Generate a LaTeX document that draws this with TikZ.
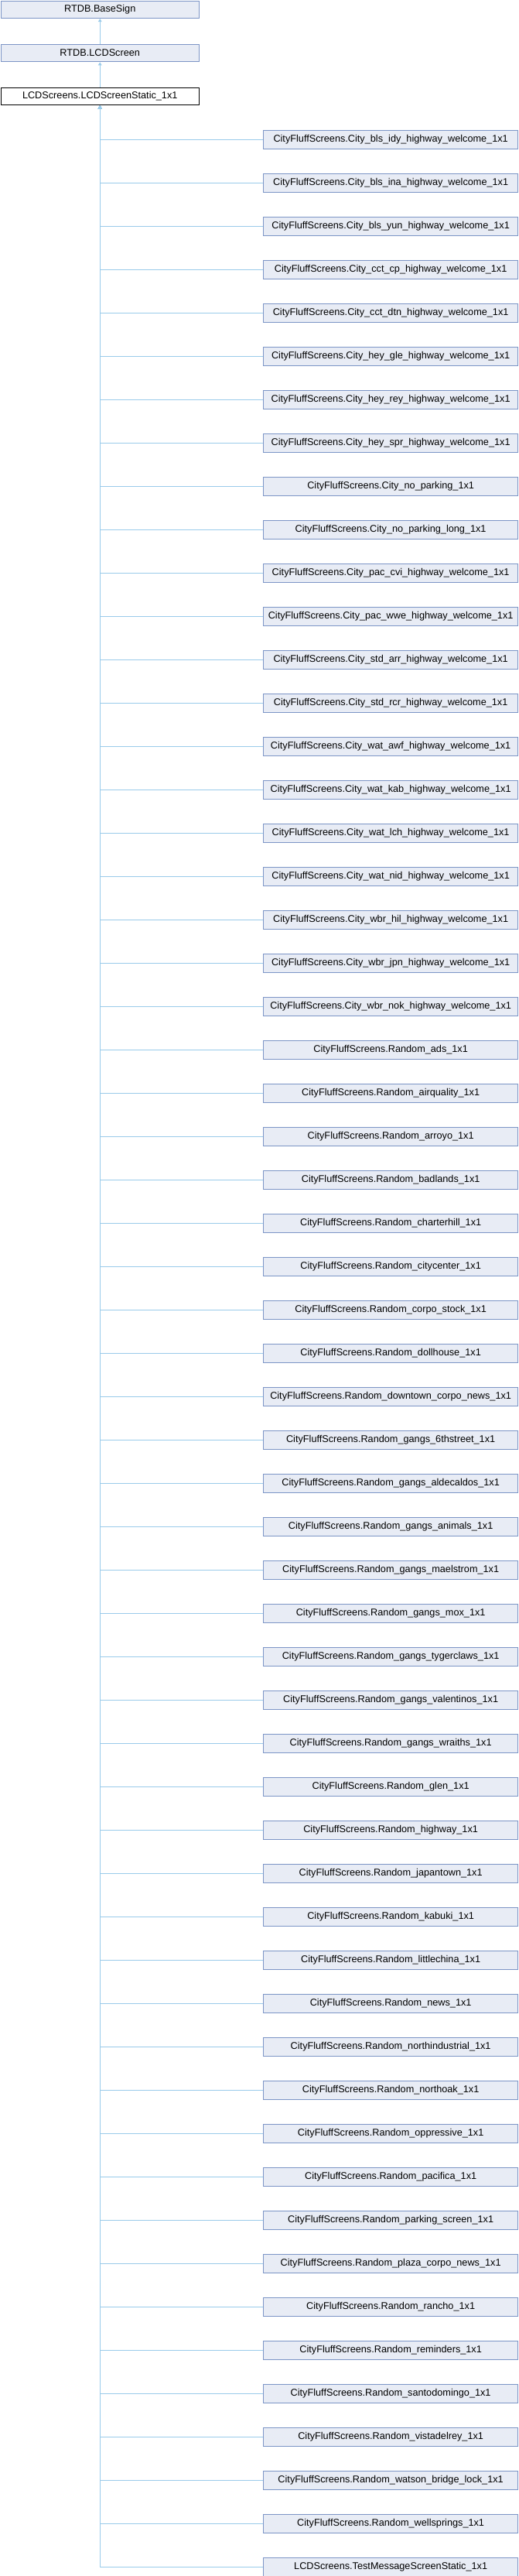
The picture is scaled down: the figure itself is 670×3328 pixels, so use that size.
\documentclass[tikz,border=0pt]{standalone}
\usepackage{fontspec}
\setmainfont{Liberation Sans}
\usetikzlibrary{arrows.meta}
\definecolor{boxfill}{HTML}{E8ECF5}
\definecolor{boxline}{HTML}{7C95C6}
\definecolor{edgecol}{HTML}{9ACBEA}
\begin{document}
\begin{tikzpicture}[x=1pt,y=-1pt,
  cls/.style={draw=boxline, fill=boxfill, line width=1pt, inner sep=0pt, anchor=north west,
    font=\fontsize{12.7}{14}\selectfont},
  topcls/.style={cls, minimum width=256.5pt, minimum height=22.6pt},
  subcls/.style={cls, minimum width=329.3pt, minimum height=23.3pt},
  focus/.style={topcls, draw=black, fill=white},
  inherit/.style={draw=edgecol, line width=1pt, -{Triangle[length=4pt,width=4.5pt]}}]
\useasboundingbox (0,0) rectangle (670,3328);
\fill[white] (0,0) rectangle (670,3328);
\node[topcls] (base) at (0.5,0.5) {RTDB.BaseSign};
\node[topcls] (lcd) at (0.5,56.7) {RTDB.LCDScreen};
\node[focus] (static) at (0.5,112.7) {LCDScreens.LCDScreenStatic\_1x1};
\draw[inherit] (lcd.north) -- (base.south);
\draw[inherit] (static.north) -- (lcd.south);
\foreach \name [count=\i] in {
CityFluffScreens.City\_bls\_idy\_highway\_welcome\_1x1,
CityFluffScreens.City\_bls\_ina\_highway\_welcome\_1x1,
CityFluffScreens.City\_bls\_yun\_highway\_welcome\_1x1,
CityFluffScreens.City\_cct\_cp\_highway\_welcome\_1x1,
CityFluffScreens.City\_cct\_dtn\_highway\_welcome\_1x1,
CityFluffScreens.City\_hey\_gle\_highway\_welcome\_1x1,
CityFluffScreens.City\_hey\_rey\_highway\_welcome\_1x1,
CityFluffScreens.City\_hey\_spr\_highway\_welcome\_1x1,
CityFluffScreens.City\_no\_parking\_1x1,
CityFluffScreens.City\_no\_parking\_long\_1x1,
CityFluffScreens.City\_pac\_cvi\_highway\_welcome\_1x1,
CityFluffScreens.City\_pac\_wwe\_highway\_welcome\_1x1,
CityFluffScreens.City\_std\_arr\_highway\_welcome\_1x1,
CityFluffScreens.City\_std\_rcr\_highway\_welcome\_1x1,
CityFluffScreens.City\_wat\_awf\_highway\_welcome\_1x1,
CityFluffScreens.City\_wat\_kab\_highway\_welcome\_1x1,
CityFluffScreens.City\_wat\_lch\_highway\_welcome\_1x1,
CityFluffScreens.City\_wat\_nid\_highway\_welcome\_1x1,
CityFluffScreens.City\_wbr\_hil\_highway\_welcome\_1x1,
CityFluffScreens.City\_wbr\_jpn\_highway\_welcome\_1x1,
CityFluffScreens.City\_wbr\_nok\_highway\_welcome\_1x1,
CityFluffScreens.Random\_ads\_1x1,
CityFluffScreens.Random\_airquality\_1x1,
CityFluffScreens.Random\_arroyo\_1x1,
CityFluffScreens.Random\_badlands\_1x1,
CityFluffScreens.Random\_charterhill\_1x1,
CityFluffScreens.Random\_citycenter\_1x1,
CityFluffScreens.Random\_corpo\_stock\_1x1,
CityFluffScreens.Random\_dollhouse\_1x1,
CityFluffScreens.Random\_downtown\_corpo\_news\_1x1,
CityFluffScreens.Random\_gangs\_6thstreet\_1x1,
CityFluffScreens.Random\_gangs\_aldecaldos\_1x1,
CityFluffScreens.Random\_gangs\_animals\_1x1,
CityFluffScreens.Random\_gangs\_maelstrom\_1x1,
CityFluffScreens.Random\_gangs\_mox\_1x1,
CityFluffScreens.Random\_gangs\_tygerclaws\_1x1,
CityFluffScreens.Random\_gangs\_valentinos\_1x1,
CityFluffScreens.Random\_gangs\_wraiths\_1x1,
CityFluffScreens.Random\_glen\_1x1,
CityFluffScreens.Random\_highway\_1x1,
CityFluffScreens.Random\_japantown\_1x1,
CityFluffScreens.Random\_kabuki\_1x1,
CityFluffScreens.Random\_littlechina\_1x1,
CityFluffScreens.Random\_news\_1x1,
CityFluffScreens.Random\_northindustrial\_1x1,
CityFluffScreens.Random\_northoak\_1x1,
CityFluffScreens.Random\_oppressive\_1x1,
CityFluffScreens.Random\_pacifica\_1x1,
CityFluffScreens.Random\_parking\_screen\_1x1,
CityFluffScreens.Random\_plaza\_corpo\_news\_1x1,
CityFluffScreens.Random\_rancho\_1x1,
CityFluffScreens.Random\_reminders\_1x1,
CityFluffScreens.Random\_santodomingo\_1x1,
CityFluffScreens.Random\_vistadelrey\_1x1,
CityFluffScreens.Random\_watson\_bridge\_lock\_1x1,
CityFluffScreens.Random\_wellsprings\_1x1,
LCDScreens.TestMessageScreenStatic\_1x1}{
  \node[subcls] (c\i) at (340,{168.3+56*(\i-1)}) {\name};
  \draw[inherit] (c\i.west) -| (static.south);
}
\end{tikzpicture}
\end{document}
